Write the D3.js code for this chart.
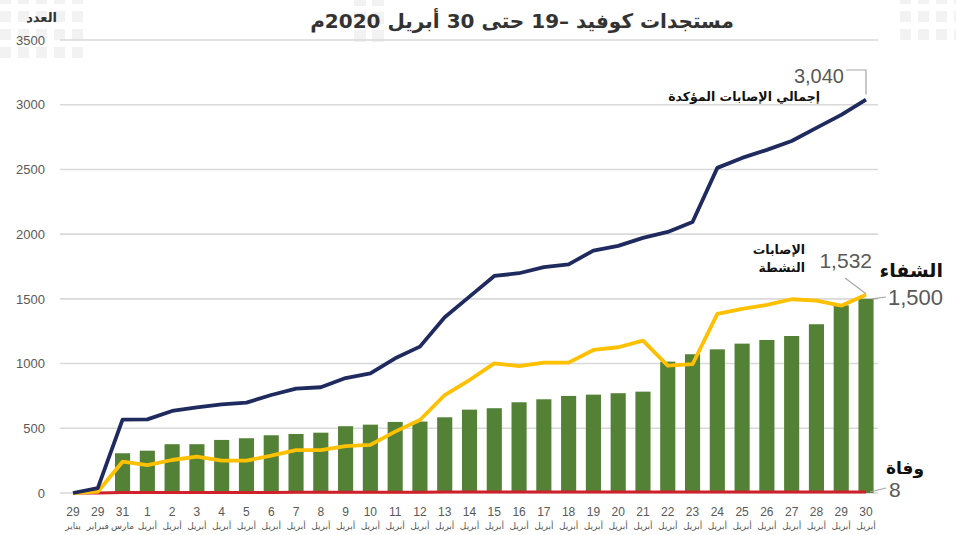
<!DOCTYPE html>
<html>
<head>
<meta charset="utf-8">
<script src="https://cdn.jsdelivr.net/npm/d3@7"></script>
<style>
  html, body { margin: 0; padding: 0; background: #ffffff; }
  svg { display: block; }
  .ar { font-family: "DejaVu Sans", "Noto Sans", sans-serif; }
  .num { font-family: "Liberation Sans", Arial, sans-serif; }
</style>
</head>
<body>
<div id="chart"></div>
<script>
// ---------- DATA ----------
const dayLabels = ["29","29","31","1","2","3","4","5","6","7","8","9","10","11","12","13","14","15","16","17","18","19","20","21","22","23","24","25","26","27","28","29","30"];
const monthLabels = ["يناير","فبراير","مارس","أبريل","أبريل","أبريل","أبريل","أبريل","أبريل","أبريل","أبريل","أبريل","أبريل","أبريل","أبريل","أبريل","أبريل","أبريل","أبريل","أبريل","أبريل","أبريل","أبريل","أبريل","أبريل","أبريل","أبريل","أبريل","أبريل","أبريل","أبريل","أبريل","أبريل"];
const confirmed = [0, 38, 567, 569, 634, 662, 685, 698, 757, 806, 817, 888, 925, 1041, 1131, 1358, 1517, 1677, 1698, 1745, 1767, 1873, 1909, 1971, 2017, 2094, 2512, 2589, 2651, 2720, 2821, 2921, 3040];
const recovered = [0, 0, 307, 327, 377, 377, 410, 423, 446, 456, 466, 516, 528, 549, 552, 585, 644, 655, 701, 724, 750, 760, 771, 783, 1015, 1072, 1110, 1154, 1182, 1213, 1304, 1450, 1500];
const active = [0, 10, 242, 216, 255, 281, 250, 250, 288, 332, 332, 362, 372, 474, 564, 757, 873, 1002, 981, 1007, 1007, 1105, 1126, 1177, 984, 995, 1384, 1422, 1453, 1497, 1486, 1447, 1532];
const deaths = [0, 0, 4, 4, 4, 4, 4, 4, 4, 5, 5, 5, 5, 6, 6, 7, 7, 7, 7, 7, 7, 7, 7, 7, 7, 8, 8, 8, 8, 8, 8, 8, 8];
const yTicks = [0, 500, 1000, 1500, 2000, 2500, 3000, 3500];
const titleText = "مستجدات كوفيد –19 حتى 30 أبريل 2020م";
const yAxisTitle = "العدد";
const confirmedLabel = "إجمالي الإصابات المؤكدة";
const activeLabel = ["الإصابات", "النشطة"];
const recoveredLabel = "الشفاء";
const deathsLabel = "وفاة";

// ---------- SETUP ----------
const W = 956, H = 535;
const svg = d3.select("#chart").append("svg").attr("width", W).attr("height", H);

// decorative faint squares
const deco = svg.append("g").attr("fill", "#f2f2f2");
function squares(x0, y0, cols, rows, s, gap) {
  for (let i = 0; i < cols; i++) for (let j = 0; j < rows; j++) {
    deco.append("rect").attr("x", x0 + i * (s + gap)).attr("y", y0 + j * (s + gap)).attr("width", s).attr("height", s);
  }
}
squares(0, -7, 5, 4, 11, 7);
squares(354, -6, 2, 3, 12, 6);
squares(900, -7, 4, 3, 11, 7);

const n = dayLabels.length;
const idx = d3.range(n);
const x = d3.scaleBand().domain(idx).range([60.6, 878.4]).paddingInner(0.39).paddingOuter(0.195);
const cx = i => x(i) + x.bandwidth() / 2;
const y = d3.scaleLinear().domain([0, 3500]).range([493, 40]);

// gridlines
svg.append("g").selectAll("line").data(yTicks).join("line")
  .attr("x1", 60).attr("x2", 878)
  .attr("y1", d => y(d)).attr("y2", d => y(d))
  .attr("stroke", "#d9d9d9").attr("stroke-width", 1.6);

// y axis labels
const yAxis = d3.axisLeft(y).tickValues(yTicks).tickSize(0).tickPadding(0).tickFormat(d3.format("d"));
const yg = svg.append("g").attr("transform", "translate(45,0)").call(yAxis);
yg.select(".domain").remove();
yg.selectAll("text").attr("class", "num").attr("font-size", 13).attr("fill", "#595959");

// x axis labels
const xg = svg.append("g");
xg.selectAll("text.day").data(idx).join("text").attr("class", "day num")
  .attr("x", d => cx(d)).attr("y", 516).attr("text-anchor", "middle")
  .attr("font-size", 12).attr("fill", "#595959").text(d => dayLabels[d]);
xg.selectAll("text.mon").data(idx).join("text").attr("class", "mon ar")
  .attr("x", d => cx(d)).attr("y", 529).attr("text-anchor", "middle")
  .attr("font-size", 9).attr("fill", "#595959").text(d => monthLabels[d]);

// bars (recovered)
svg.append("g").selectAll("rect").data(idx.filter(i => recovered[i] > 0)).join("rect")
  .attr("x", d => x(d)).attr("width", x.bandwidth())
  .attr("y", d => y(recovered[d])).attr("height", d => y(0) - y(recovered[d]))
  .attr("fill", "#538135");

const line = arr => d3.line().x(i => cx(i)).y(i => y(arr[i]))(idx);

// deaths line
svg.append("path").attr("d", line(deaths)).attr("fill", "none")
  .attr("stroke", "#d0202a").attr("stroke-width", 3);
// active line
svg.append("path").attr("d", line(active)).attr("fill", "none")
  .attr("stroke", "#ffc000").attr("stroke-width", 3.8).attr("stroke-linejoin", "round");
// confirmed line
svg.append("path").attr("d", line(confirmed)).attr("fill", "none")
  .attr("stroke", "#1f2a5e").attr("stroke-width", 3.8).attr("stroke-linejoin", "round");

// title
svg.append("text").attr("class", "ar").attr("direction", "rtl")
  .attr("x", 522).attr("y", 28).attr("text-anchor", "middle")
  .attr("font-size", 20).attr("font-weight", "bold").attr("fill", "#333333")
  .text(titleText);

// y axis title
svg.append("text").attr("class", "ar").attr("direction", "rtl")
  .attr("x", 57).attr("y", 22).attr("text-anchor", "start")
  .attr("font-size", 13).attr("font-weight", "bold").attr("fill", "#333333")
  .text(yAxisTitle);

// annotations
const last = n - 1;
const leader = "#a6a6a6";
// confirmed
svg.append("path").attr("d", `M846,${70} H866 V${y(confirmed[last]) - 5}`)
  .attr("fill", "none").attr("stroke", leader).attr("stroke-width", 1.2);
svg.append("text").attr("class", "num").attr("x", 844).attr("y", 83).attr("text-anchor", "end")
  .attr("font-size", 20).attr("fill", "#595959").text(d3.format(",")(confirmed[last]));
svg.append("text").attr("class", "ar").attr("direction", "rtl").attr("x", 820).attr("y", 101)
  .attr("text-anchor", "start").attr("font-size", 12.5).attr("font-weight", "bold").attr("fill", "#111")
  .text(confirmedLabel);

// active
svg.append("line").attr("x1", 845).attr("y1", 278).attr("x2", cx(last)).attr("y2", y(active[last]) - 1)
  .attr("stroke", leader).attr("stroke-width", 1.2);
svg.append("text").attr("class", "num").attr("x", 872).attr("y", 268).attr("text-anchor", "end")
  .attr("font-size", 21).attr("fill", "#595959").text(d3.format(",")(active[last]));
svg.append("text").attr("class", "ar").attr("direction", "rtl").attr("x", 805).attr("y", 254)
  .attr("text-anchor", "start").attr("font-size", 12.5).attr("font-weight", "bold").attr("fill", "#111")
  .text(activeLabel[0]);
svg.append("text").attr("class", "ar").attr("direction", "rtl").attr("x", 805).attr("y", 272)
  .attr("text-anchor", "start").attr("font-size", 12.5).attr("font-weight", "bold").attr("fill", "#111")
  .text(activeLabel[1]);

// recovered
svg.append("line").attr("x1", 872).attr("y1", y(recovered[last])).attr("x2", 886).attr("y2", 297)
  .attr("stroke", leader).attr("stroke-width", 1.2);
svg.append("text").attr("class", "ar").attr("direction", "rtl").attr("x", 943).attr("y", 277)
  .attr("text-anchor", "start").attr("font-size", 19).attr("font-weight", "bold").attr("fill", "#111")
  .text(recoveredLabel);
svg.append("text").attr("class", "num").attr("x", 888).attr("y", 305).attr("text-anchor", "start")
  .attr("font-size", 22).attr("fill", "#595959").text(d3.format(",")(recovered[last]));

// deaths
svg.append("line").attr("x1", 870).attr("y1", y(deaths[last])).attr("x2", 886).attr("y2", 488)
  .attr("stroke", leader).attr("stroke-width", 1.2);
svg.append("text").attr("class", "ar").attr("direction", "rtl").attr("x", 924).attr("y", 474)
  .attr("text-anchor", "start").attr("font-size", 17).attr("font-weight", "bold").attr("fill", "#111")
  .text(deathsLabel);
svg.append("text").attr("class", "num").attr("x", 889).attr("y", 497).attr("text-anchor", "start")
  .attr("font-size", 21).attr("fill", "#595959").text(d3.format(",")(deaths[last]));
</script>
</body>
</html>
